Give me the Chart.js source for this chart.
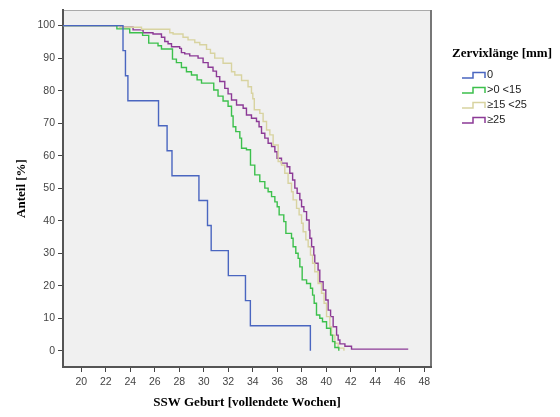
<!DOCTYPE html>
<html>
<head>
<meta charset="utf-8">
<script src="https://cdn.jsdelivr.net/npm/chart.js@4"></script>
<style>
  body { margin: 0; background: #fff; }
  canvas { display: block; }
</style>
</head>
<body>
<canvas id="km" width="560" height="417"></canvas>
<script>
// tick labels
var xTicks = [20, 22, 24, 26, 28, 30, 32, 34, 36, 38, 40, 42, 44, 46, 48];
var yTicks = [0, 10, 20, 30, 40, 50, 60, 70, 80, 90, 100];

var groupLabels = ['0', '>0 <15', '\u226515 <25', '\u226525'];

// Zervixlänge 0
var g0Weeks  = [0, 23.4, 23.6, 23.8, 26.3, 27.0, 27.4, 29.6, 30.3, 30.6, 32.0, 33.4, 33.8, 38.7];
var g0Values = [100, 92.3, 84.6, 76.9, 69.2, 61.5, 53.8, 46.2, 38.5, 30.8, 23.1, 15.4, 7.7, 0];

// >0 <15
var g1Weeks  = [0, 22.9, 23.95, 25.0, 25.5, 26.26, 26.54, 27.44, 27.76, 28.17, 28.58, 28.99, 29.45, 29.81,
                30.81, 31.16, 31.57, 31.98, 32.26, 32.39, 32.61, 32.94, 33.08, 33.48, 33.81, 34.16, 34.57,
                34.98, 35.25, 35.53, 35.80, 35.99, 36.15, 36.53, 36.70, 37.16, 37.29, 37.51, 37.70, 37.84,
                38.03, 38.39, 38.71, 38.88, 39.01, 39.20, 39.47, 39.69, 40.02, 40.35, 40.51, 40.70, 41.02];
var g1Values = [100, 99, 97.8, 97.0, 94.6, 93.8, 92.8, 89.7, 88.6, 87.1, 85.8, 84.8, 83.3, 82.3,
                80.2, 78.3, 76.8, 75.2, 72.2, 68.9, 67.4, 65.4, 62.3, 61.8, 57.1, 54.1, 52.0,
                50.0, 48.9, 47.4, 45.8, 44.3, 41.8, 39.7, 36.1, 34.6, 32.0, 30.0, 28.4, 25.8,
                21.8, 20.7, 19.2, 17.1, 14.6, 11.0, 10.0, 8.9, 6.9, 4.8, 2.8, 1.0, 0];

// >=15 <25
var g2Weeks  = [0, 23.1, 24.91, 27.22, 27.49, 28.30, 28.71, 29.26, 29.67, 30.22, 30.54, 30.89, 31.57,
                32.26, 32.53, 33.08, 33.61, 33.89, 34.0, 34.12, 34.57, 34.84, 35.12, 35.39, 35.66, 36.07,
                36.34, 36.61, 36.88, 37.16, 37.29, 37.57, 37.78, 37.98, 38.11, 38.33, 38.52, 38.71, 38.88,
                39.06, 39.33, 39.61, 39.82, 40.02, 40.29, 40.43, 40.70, 40.97, 41.44];
var g2Values = [100, 99.5, 98.9, 97.8, 97.4, 96.4, 95.6, 94.8, 94.1, 92.7, 91.5, 90.0, 88.4,
                85.8, 84.8, 83.1, 81.2, 79.2, 77.5, 74.1, 73.0, 70.5, 67.9, 66.4, 63.3, 58.2,
                57.1, 54.6, 51.5, 48.9, 46.4, 43.8, 41.8, 39.2, 36.6, 34.1, 32.0, 29.4, 26.9,
                24.3, 20.7, 17.7, 14.6, 10.5, 7.4, 4.8, 2.3, 0.8, 0];

// >=25
var g3Weeks  = [0, 23.13, 24.22, 25.04, 25.85, 26.54, 26.81, 27.08, 27.36, 28.03, 28.17, 28.44, 28.85,
                29.53, 29.94, 30.35, 30.75, 31.03, 31.30, 31.71, 31.98, 32.26, 32.67, 33.21, 33.48, 33.89,
                34.30, 34.51, 34.71, 34.98, 35.25, 35.53, 35.80, 35.98, 36.34, 36.80, 37.02, 37.25, 37.43,
                37.62, 37.84, 37.98, 38.17, 38.39, 38.60, 38.66, 38.80, 38.98, 39.06, 39.33, 39.47, 39.74,
                39.96, 40.15, 40.35, 40.56, 40.84, 40.97, 41.11, 41.52, 42.06, 46.69];
var g3Values = [100, 99.5, 98.7, 97.8, 97.4, 96.4, 95.1, 94.4, 93.5, 93.0, 91.7, 91.3, 90.7,
                90.0, 88.6, 87.2, 86.0, 84.3, 82.8, 80.7, 79.0, 77.1, 75.6, 74.6, 72.5, 71.5,
                70.5, 68.9, 66.9, 65.4, 63.8, 62.8, 61.2, 59.2, 57.7, 56.6, 54.6, 52.5, 50.0,
                48.4, 46.4, 44.3, 42.8, 40.2, 37.1, 34.6, 32.0, 29.4, 26.9, 24.8, 21.2, 18.7,
                15.6, 12.5, 10.5, 7.4, 4.8, 3.3, 2.1, 1.4, 0.5, 0.5];

var colors = ['#4a66c0', '#3cc04c', '#d8d3a0', '#8c3a96'];

function pts(weeks, values) {
    return weeks.map(function (w, i) { return { x: w, y: values[i] }; });
}

var series = [[g0Weeks, g0Values], [g1Weeks, g1Values], [g2Weeks, g2Values], [g3Weeks, g3Values]];

var datasets = series.map(function (s, i) {
    return {
        label: groupLabels[i],
        data: pts(s[0], s[1]),
        borderColor: colors[i],
        borderWidth: 1.4,
        pointRadius: 0,
        fill: false,
        stepped: 'before'
    };
});

// grey plot background + frame
var plotBg = {
    id: 'plotBg',
    beforeDraw: function (chart) {
        var a = chart.chartArea, ctx = chart.ctx;
        ctx.save();
        ctx.fillStyle = '#f0f0f0';
        ctx.fillRect(a.left, a.top, a.right - a.left, a.bottom - a.top);
        ctx.strokeStyle = '#aaa';
        ctx.lineWidth = 1;
        ctx.beginPath();
        ctx.moveTo(a.left, a.top + 0.5);
        ctx.lineTo(a.right, a.top + 0.5);
        ctx.stroke();
        ctx.strokeStyle = '#777';
        ctx.lineWidth = 2;
        ctx.beginPath();
        ctx.moveTo(a.right, a.top);
        ctx.lineTo(a.right, a.bottom);
        ctx.stroke();
        ctx.restore();
    }
};

// legend with step icons, like SPSS
var stepLegend = {
    id: 'stepLegend',
    afterDraw: function (chart) {
        var ctx = chart.ctx;
        var x0 = 452, y0 = 54;
        ctx.save();
        ctx.fillStyle = '#000';
        ctx.font = 'bold 13px "Liberation Serif"';
        ctx.textBaseline = 'middle';
        ctx.fillText('Zervixl\u00e4nge [mm]', x0, y0);
        ctx.font = '11px "Liberation Sans"';
        chart.data.datasets.forEach(function (ds, i) {
            var y = 75 + i * 15;
            var ix = 462;
            ctx.strokeStyle = ds.borderColor;
            ctx.lineWidth = 1.5;
            ctx.beginPath();
            ctx.moveTo(ix, y + 3);
            ctx.lineTo(ix + 11, y + 3);
            ctx.lineTo(ix + 11, y - 2.5);
            ctx.lineTo(ix + 23, y - 2.5);
            ctx.lineTo(ix + 23, y + 3);
            ctx.stroke();
            ctx.fillStyle = '#222';
            ctx.fillText(ds.label, 487, y);
        });
        ctx.restore();
    }
};

var tickFont = { family: '"Liberation Sans", Arial, sans-serif', size: 10.5 };
var titleFont = { family: '"Liberation Serif", "Times New Roman", serif', size: 13, weight: 'bold' };

new Chart(document.getElementById('km').getContext('2d'), {
    type: 'line',
    data: { datasets: datasets },
    options: {
        responsive: false,
        devicePixelRatio: 1,
        animation: false,
        layout: { padding: { top: 10, right: 129, bottom: 0, left: 0 } },
        plugins: {
            legend: { display: false },
            tooltip: { enabled: false }
        },
        scales: {
            x: {
                type: 'linear',
                min: 18.5,
                max: 48.55,
                afterBuildTicks: function (s) { s.ticks = xTicks.map(function (v) { return { value: v }; }); },
                afterFit: function (s) { s.height = 50; },
                ticks: { font: tickFont, color: '#444', padding: 4, maxRotation: 0, autoSkip: false },
                grid: { drawOnChartArea: false, drawTicks: true, tickLength: 5, color: '#444' },
                border: { color: '#555', width: 2 },
                title: { display: true, text: 'SSW Geburt [vollendete Wochen]', font: titleFont, color: '#000',
                         padding: { top: 0, bottom: 7 } }
            },
            y: {
                type: 'linear',
                min: -5,
                max: 104.8,
                afterBuildTicks: function (s) { s.ticks = yTicks.map(function (v) { return { value: v }; }); },
                afterFit: function (s) { s.width = 63; },
                ticks: { font: tickFont, color: '#444', padding: 3, autoSkip: false },
                grid: { drawOnChartArea: false, drawTicks: true, tickLength: 5, color: '#444' },
                border: { color: '#555', width: 2 },
                title: { display: true, text: 'Anteil [%]', font: titleFont, color: '#000',
                         padding: { top: 14, bottom: 0 } }
            }
        }
    },
    plugins: [plotBg, stepLegend]
});
</script>
</body>
</html>
